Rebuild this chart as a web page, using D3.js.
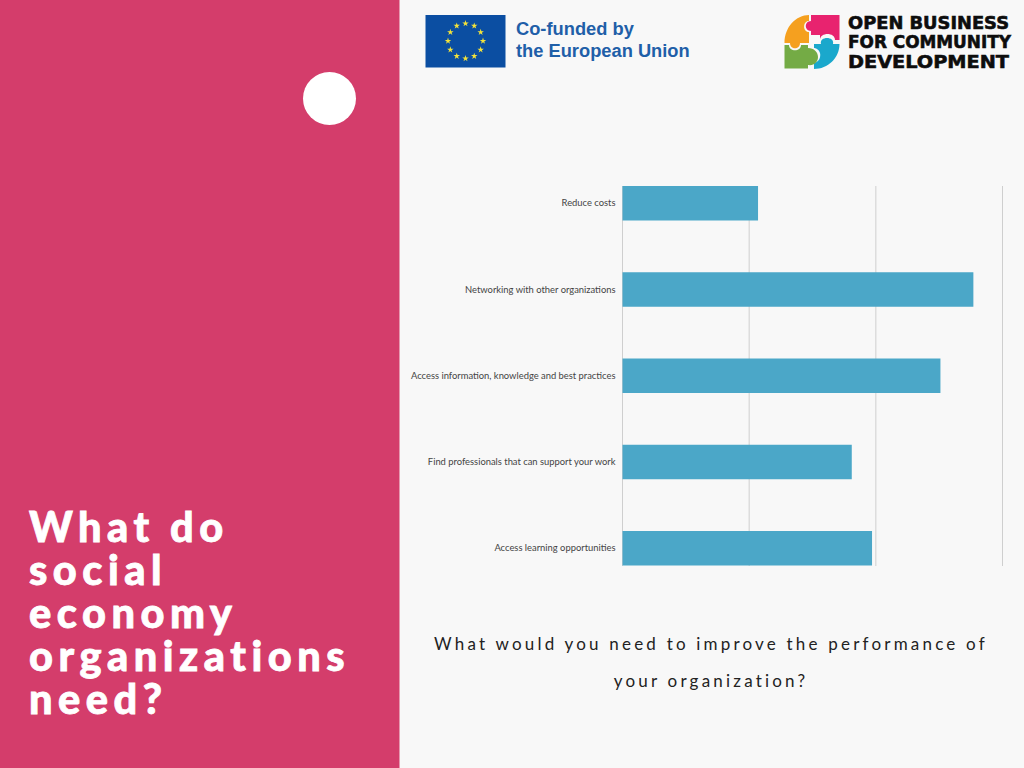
<!DOCTYPE html>
<html><head><meta charset="utf-8">
<script src="https://cdnjs.cloudflare.com/ajax/libs/d3/7.8.5/d3.min.js"></script>
<style>html,body{margin:0;padding:0;background:#f8f8f8;overflow:hidden}svg{display:block}</style>
</head><body><svg id="c" width="1024" height="768"></svg>
<script>
const categories=["Reduce costs","Networking with other organizations","Access information, knowledge and best practices","Find professionals that can support your work","Access learning opportunities"];
const values=[10.7,27.7,25.1,18.1,19.7];
const gridTicks=[0,10,20,30];
const titleLines=["What do","social","economy","organizations","need?"];
const questionLines=["What would you need to improve the performance of","your organization?"];
const logoLines=["OPEN BUSINESS","FOR COMMUNITY","DEVELOPMENT"];
const euLines=["Co-funded by","the European Union"];

const svg=d3.select("#c");
svg.append("rect").attr("width",1024).attr("height",768).attr("fill","#f8f8f8");
svg.append("rect").attr("width",399.5).attr("height",768).attr("fill","#d43d6b");
svg.append("circle").attr("cx",329.5).attr("cy",98.5).attr("r",26.5).attr("fill","#fff");

// title: one text element, one tspan per line
svg.append("text")
 .attr("font-family","Lato").attr("font-weight",900).attr("font-size",41.5)
 .attr("letter-spacing",5.5).attr("fill","#fff").attr("stroke","#fff").attr("stroke-width",0.8)
 .selectAll("tspan").data(titleLines).join("tspan")
 .attr("x",29).attr("y",(d,i)=>541.5+i*43.2).text(d=>d);

// chart
const x=d3.scaleLinear().domain([0,30]).range([622.5,1002.5]);
const y=d3.scaleBand().domain(categories).range([186,565.5]).paddingInner(0.6).paddingOuter(0);
svg.append("g").selectAll("line").data(gridTicks).join("line")
 .attr("x1",d=>x(d)).attr("x2",d=>x(d)).attr("y1",186).attr("y2",566)
 .attr("stroke","#cfcfcf").attr("stroke-width",1);
svg.append("g").selectAll("rect").data(values).join("rect")
 .attr("x",x(0)).attr("y",(d,i)=>y(categories[i]))
 .attr("width",d=>x(d)-x(0)).attr("height",y.bandwidth()).attr("fill","#4ba7c8");
const yAxis=d3.axisLeft(y).tickSize(0).tickPadding(7);
const ag=svg.append("g").attr("transform",`translate(${x(0)},0)`).call(yAxis);
ag.select(".domain").remove();
ag.selectAll("text").attr("font-family","Lato").attr("font-size",9.4).attr("fill","#444");

// question
svg.append("text")
 .attr("text-anchor","middle")
 .attr("font-family","Lato").attr("font-size",17).attr("letter-spacing",3.2).attr("fill","#222")
 .selectAll("tspan").data(questionLines).join("tspan")
 .attr("x",711).attr("y",(d,i)=>650+i*37.3).text(d=>d);

// EU logo
const eu=svg.append("g");
eu.append("rect").attr("x",425.5).attr("y",15).attr("width",80).attr("height",52.5).attr("fill","#0b4ea2");
const star=d3.symbol().type(d3.symbolStar).size(13);
eu.selectAll("path").data(d3.range(12)).join("path").attr("d",star)
 .attr("transform",d=>`translate(${465.5+17.5*Math.sin(d*Math.PI/6)},${41-17.5*Math.cos(d*Math.PI/6)})`)
 .attr("fill","#f4e33a");
eu.selectAll("text").data(euLines).join("text").attr("x",516).attr("y",(d,i)=>35+i*22).text(d=>d)
 .attr("font-family","Liberation Sans").attr("font-weight",700).attr("font-size",18.3).attr("fill","#1f5fa8");

// Business logo
const lg=svg.append("g");
lg.append("path").attr("fill","#f5a01f").attr("d","M809 15C796 15 784.5 27 784.5 43H790C790 50 800 50 800 43H809V32C802.5 32 802.5 21 809 21Z");
lg.append("path").attr("fill","#e8236f").attr("d","M811 15H839.5V40H835C835 32 820 32 820 40V35H811V31C804 31 804 21 811 21Z");
lg.append("path").attr("fill","#1aa8cc").attr("d","M814 44H821C819 36 835 36 833 44H839.5C839.5 58 828 69 814 69V63C819 62 821 57 820 53C819 49 815 48 814 48Z");
lg.append("path").attr("fill","#74ab45").attr("d","M784.5 45H789C789 52 801 52 801 45H808V48C814 48 818 52 818 57C818 62 814 66 808 65V68.5H784.5Z");
lg.selectAll("text").data(logoLines).join("text").attr("x",848).attr("y",(d,i)=>28.5+i*19.8).text(d=>d)
 .attr("font-family","DejaVu Sans").attr("font-weight",700).attr("font-size",18).attr("fill","#0d0d0d")
 .attr("stroke","#0d0d0d").attr("stroke-width",0.6)
 .attr("textLength",(d,i)=>[161,163,161][i]).attr("lengthAdjust","spacingAndGlyphs");
</script></body></html>
